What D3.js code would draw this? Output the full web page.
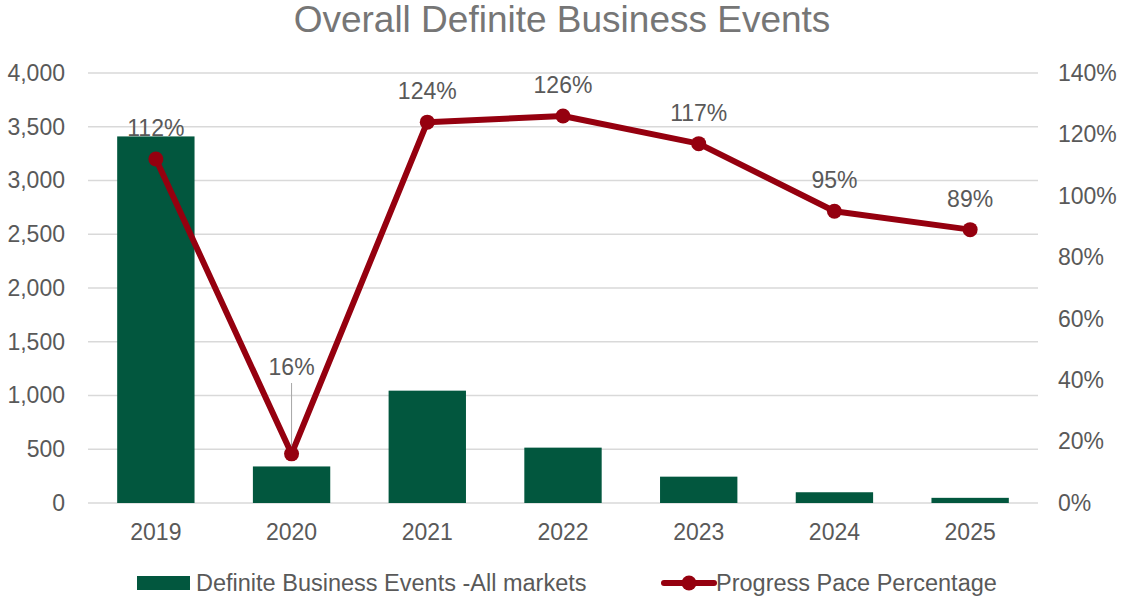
<!DOCTYPE html>
<html lang="en">
<head>
<meta charset="UTF-8">
<script src="https://d3js.org/d3.v7.min.js"></script>
<title>Overall Definite Business Events</title>
<style>
    body { margin: 0; background: #fff; }
    svg { font-family: "Liberation Sans", Arial, sans-serif; }
</style>
</head>
<body>
<div id="chart"></div>
<script>
    // data
    var years = ["2019", "2020", "2021", "2022", "2023", "2024", "2025"];
    var events = [3410, 340, 1045, 515, 245, 100, 48];
    var pace = [1.12, 0.16, 1.24, 1.26, 1.17, 0.95, 0.89];
    var leftTicks = [0, 500, 1000, 1500, 2000, 2500, 3000, 3500, 4000];
    var rightTicks = [0, 0.2, 0.4, 0.6, 0.8, 1.0, 1.2, 1.4];

    var width = 1122, height = 597;
    var mLeft = 88, mRight = 1038, mTop = 73, mBottom = 503;
    var fs = "23px";

    var svg = d3.select("#chart").append("svg")
        .attr("width", width)
        .attr("height", height);

    var x = d3.scaleBand().domain(years).range([mLeft, mRight]).paddingInner(0.43).paddingOuter(0.215);
    var y = d3.scaleLinear().domain([0, 4000]).range([mBottom, mTop]);
    var y2 = d3.scaleLinear().domain([0, 1.4]).range([mBottom, mTop]);

    // title
    svg.append("text")
        .attr("x", 562).attr("y", 32)
        .attr("text-anchor", "middle")
        .attr("font-size", "37px")
        .attr("fill", "#767676")
        .text("Overall Definite Business Events");

    // gridlines
    svg.append("g").selectAll("line")
        .data(leftTicks)
        .join("line")
        .attr("x1", mLeft).attr("x2", mRight)
        .attr("y1", function(d){ return y(d); })
        .attr("y2", function(d){ return y(d); })
        .attr("stroke", "#d9d9d9")
        .attr("stroke-width", 1.5);

    // left axis
    var axL = svg.append("g")
        .attr("transform", "translate(" + mLeft + ",0)")
        .call(d3.axisLeft(y).tickValues(leftTicks).tickFormat(d3.format(",")).tickSize(0).tickPadding(23));
    axL.select(".domain").remove();
    axL.selectAll("text").attr("font-size", fs).attr("fill", "#595959").attr("font-family", null);

    // right axis
    var axR = svg.append("g")
        .attr("transform", "translate(" + mRight + ",0)")
        .call(d3.axisRight(y2).tickValues(rightTicks).tickFormat(d3.format(".0%")).tickSize(0).tickPadding(20));
    axR.select(".domain").remove();
    axR.selectAll("text").attr("font-size", fs).attr("fill", "#595959").attr("font-family", null);

    // bottom axis
    var axB = svg.append("g")
        .attr("transform", "translate(0," + mBottom + ")")
        .call(d3.axisBottom(x).tickSize(0).tickPadding(21));
    axB.select(".domain").remove();
    axB.selectAll("text").attr("font-size", fs).attr("fill", "#595959").attr("font-family", null);

    // bars
    svg.append("g").selectAll("rect")
        .data(events)
        .join("rect")
        .attr("x", function(d, i){ return x(years[i]); })
        .attr("width", x.bandwidth())
        .attr("y", function(d){ return y(d); })
        .attr("height", function(d){ return y(0) - y(d); })
        .attr("fill", "#02573e");

    // line
    var cx = function(i){ return x(years[i]) + x.bandwidth() / 2; };
    var line = d3.line()
        .x(function(d, i){ return cx(i); })
        .y(function(d){ return y2(d); });
    svg.append("path")
        .datum(pace)
        .attr("d", line)
        .attr("fill", "none")
        .attr("stroke", "#95000f")
        .attr("stroke-width", 6)
        .attr("stroke-linejoin", "round");

    // leader line for 2020 label
    svg.append("line")
        .attr("x1", cx(1)).attr("x2", cx(1))
        .attr("y1", 383).attr("y2", y2(pace[1]) - 2)
        .attr("stroke", "#a6a6a6")
        .attr("stroke-width", 1);

    svg.append("g").selectAll("circle")
        .data(pace)
        .join("circle")
        .attr("cx", function(d, i){ return cx(i); })
        .attr("cy", function(d){ return y2(d); })
        .attr("r", 7.5)
        .attr("fill", "#95000f");

    // data labels
    svg.append("g").selectAll("text")
        .data(pace)
        .join("text")
        .attr("x", function(d, i){ return cx(i); })
        .attr("y", function(d, i){ return i === 1 ? 375 : y2(d) - 23; })
        .attr("text-anchor", "middle")
        .attr("font-size", fs)
        .attr("fill", "#595959")
        .text(function(d){ return d3.format(".0%")(d); });

    // legend
    var lg = svg.append("g");
    lg.append("rect")
        .attr("x", 137).attr("y", 576).attr("width", 53).attr("height", 14)
        .attr("fill", "#02573e");
    lg.append("text")
        .attr("x", 196).attr("y", 591)
        .attr("font-size", "23.5px").attr("fill", "#595959")
        .text("Definite Business Events -All markets");
    lg.append("line")
        .attr("x1", 664).attr("x2", 714).attr("y1", 583).attr("y2", 583)
        .attr("stroke", "#95000f").attr("stroke-width", 6).attr("stroke-linecap", "round");
    lg.append("circle")
        .attr("cx", 689).attr("cy", 583).attr("r", 7.5).attr("fill", "#95000f");
    lg.append("text")
        .attr("x", 716).attr("y", 591)
        .attr("font-size", "23.5px").attr("fill", "#595959")
        .text("Progress Pace Percentage");
</script>
</body>
</html>
